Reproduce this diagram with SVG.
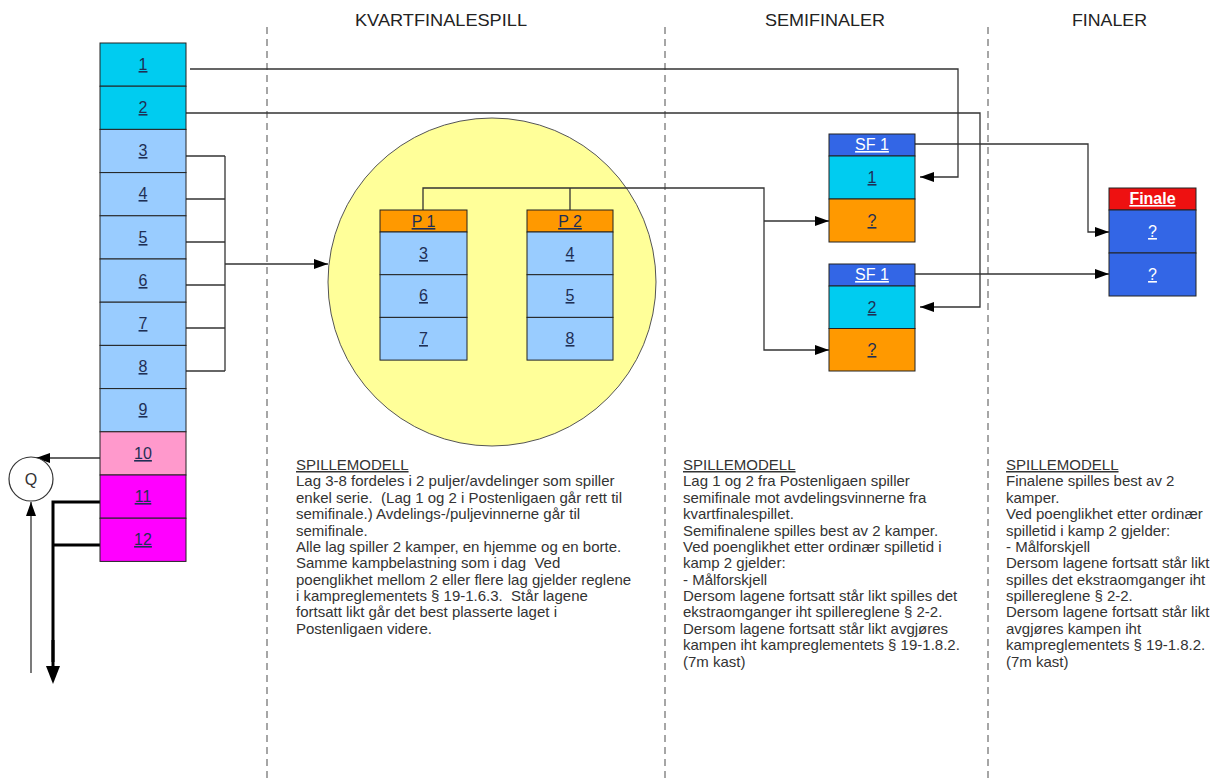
<svg xmlns="http://www.w3.org/2000/svg" width="1218" height="778" viewBox="0 0 1218 778">
<defs>
<style>
text{font-family:"Liberation Sans",Arial,sans-serif}
.head{font-size:17px;fill:#222}
.num{font-size:16px;fill:#1f2f55;text-anchor:middle;text-decoration:underline}
.wnum{font-size:16px;fill:#ffffff;text-anchor:middle;text-decoration:underline}
.body{font-size:15px;fill:#333}
.pre{white-space:pre}
.cell{stroke:#222;stroke-width:1}
.c1{fill:#00ccf0}
.c3{fill:#99ccff}
.c10{fill:#ff99cc}
.c11{fill:#ff00ff}
.or{fill:#ff9900}
.bl{fill:#3366e6}
.rd{fill:#ee1111}
.dash{stroke:#777;stroke-width:1.3;stroke-dasharray:7 5;fill:none}
.con{stroke:#333;stroke-width:1.3;fill:none}
.thick{stroke:#000;stroke-width:3;fill:none}
</style>
<marker id="arr" markerUnits="userSpaceOnUse" markerWidth="14" markerHeight="10" refX="14" refY="5" orient="auto">
<path d="M0,0 L14,5 L0,10 z" fill="#000"/>
</marker>
<marker id="arrBig" markerUnits="userSpaceOnUse" markerWidth="18" markerHeight="14" refX="9" refY="7" orient="auto">
<path d="M0,0 L18,7 L0,14 z" fill="#000"/>
</marker>
</defs>
<rect width="1218" height="778" fill="#fff"/>

<g id="dividers">
<line class="dash" x1="267" y1="27" x2="267" y2="778"/>
<line class="dash" x1="665" y1="27" x2="665" y2="778"/>
<line class="dash" x1="988" y1="27" x2="988" y2="778"/>
</g>

<g id="headings">
<text class="head" x="355" y="26" textLength="172" lengthAdjust="spacingAndGlyphs">KVARTFINALESPILL</text>
<text class="head" x="765" y="26" textLength="120" lengthAdjust="spacingAndGlyphs">SEMIFINALER</text>
<text class="head" x="1072" y="26" textLength="75" lengthAdjust="spacingAndGlyphs">FINALER</text>
</g>

<g id="pool-circle">
<circle cx="492" cy="282" r="164" fill="#ffff99" stroke="#555" stroke-width="1"/>
</g>

<g id="connectors">
<polyline class="con" points="190,69 958,69 958,177 920,177" marker-end="url(#arr)"/>
<polyline class="con" points="186,113 980,113 980,307 920,307" marker-end="url(#arr)"/>
<polyline class="con" points="186,156 225,156"/>
<polyline class="con" points="186,199 225,199"/>
<polyline class="con" points="186,242 225,242"/>
<polyline class="con" points="186,285 225,285"/>
<polyline class="con" points="186,328 225,328"/>
<polyline class="con" points="186,371 225,371"/>
<line class="con" x1="225" y1="156" x2="225" y2="371"/>
<line class="con" x1="225" y1="264" x2="328" y2="264" marker-end="url(#arr)"/>
<polyline class="con" points="423,210 423,188 764,188 764,350 829,350" marker-end="url(#arr)"/>
<polyline class="con" points="570,188 570,210"/>
<polyline class="con" points="764,221 829,221" marker-end="url(#arr)"/>
<polyline class="con" points="915,144 1088,144 1088,232 1109,232" marker-end="url(#arr)"/>
<line class="con" x1="915" y1="274" x2="1109" y2="274" marker-end="url(#arr)"/>
<line class="con" x1="100" y1="458" x2="36" y2="458" marker-end="url(#arr)"/>
<line class="con" x1="31" y1="673" x2="31" y2="502" marker-end="url(#arr)"/>
<polyline class="thick" points="100,502 53,502 53,662"/>
<line class="thick" x1="100" y1="545" x2="53" y2="545"/>
<line x1="53" y1="640" x2="53" y2="675" stroke="#000" stroke-width="3" marker-end="url(#arrBig)"/>
</g>

<g id="standings">
<rect class="cell c1" x="100" y="43" width="86" height="43.2"/><text class="num" x="143" y="70">1</text>
<rect class="cell c1" x="100" y="86.2" width="86" height="43.2"/><text class="num" x="143" y="113">2</text>
<rect class="cell c3" x="100" y="129.4" width="86" height="43.2"/><text class="num" x="143" y="156">3</text>
<rect class="cell c3" x="100" y="172.6" width="86" height="43.2"/><text class="num" x="143" y="199">4</text>
<rect class="cell c3" x="100" y="215.8" width="86" height="43.2"/><text class="num" x="143" y="243">5</text>
<rect class="cell c3" x="100" y="259" width="86" height="43.2"/><text class="num" x="143" y="286">6</text>
<rect class="cell c3" x="100" y="302.2" width="86" height="43.2"/><text class="num" x="143" y="329">7</text>
<rect class="cell c3" x="100" y="345.4" width="86" height="43.2"/><text class="num" x="143" y="372">8</text>
<rect class="cell c3" x="100" y="388.6" width="86" height="43.2"/><text class="num" x="143" y="415">9</text>
<rect class="cell c10" x="100" y="431.8" width="86" height="43.2"/><text class="num" x="143" y="459">10</text>
<rect class="cell c11" x="100" y="475" width="86" height="43.2"/><text class="num" x="143" y="502">11</text>
<rect class="cell c11" x="100" y="518.2" width="86" height="43.2"/><text class="num" x="143" y="545">12</text>
</g>

<g id="q-node">
<circle cx="31" cy="479" r="22" fill="#fff" stroke="#333" stroke-width="1.2"/>
<text x="31" y="485" font-size="16" fill="#333" text-anchor="middle">Q</text>
</g>

<g id="pool-1">
<rect class="cell or" x="380" y="210" width="87" height="22"/><text class="num" x="423.5" y="227">P 1</text>
<rect class="cell c3" x="380" y="232" width="87" height="42.7"/><text class="num" x="423.5" y="259">3</text>
<rect class="cell c3" x="380" y="274.7" width="87" height="42.7"/><text class="num" x="423.5" y="301">6</text>
<rect class="cell c3" x="380" y="317.4" width="87" height="42.7"/><text class="num" x="423.5" y="344">7</text>
</g>

<g id="pool-2">
<rect class="cell or" x="527" y="210" width="86" height="22"/><text class="num" x="570" y="227">P 2</text>
<rect class="cell c3" x="527" y="232" width="86" height="42.7"/><text class="num" x="570" y="259">4</text>
<rect class="cell c3" x="527" y="274.7" width="86" height="42.7"/><text class="num" x="570" y="301">5</text>
<rect class="cell c3" x="527" y="317.4" width="86" height="42.7"/><text class="num" x="570" y="344">8</text>
</g>

<g id="sf-1">
<rect class="cell bl" x="829" y="134" width="86" height="22"/><text class="wnum" x="872" y="150">SF 1</text>
<rect class="cell c1" x="829" y="156" width="86" height="43"/><text class="num" x="872" y="183">1</text>
<rect class="cell or" x="829" y="199" width="86" height="43"/><text class="num" x="872" y="226">?</text>
</g>

<g id="sf-2">
<rect class="cell bl" x="829" y="264" width="86" height="22"/><text class="wnum" x="872" y="280">SF 1</text>
<rect class="cell c1" x="829" y="286" width="86" height="42.5"/><text class="num" x="872" y="313">2</text>
<rect class="cell or" x="829" y="328.5" width="86" height="42.5"/><text class="num" x="872" y="355">?</text>
</g>

<g id="finale">
<rect class="cell rd" x="1109" y="188" width="87" height="22"/><text class="wnum" x="1152.5" y="204" font-weight="bold">Finale</text>
<rect class="cell bl" x="1109" y="210" width="87" height="43"/><text class="wnum" x="1152.5" y="237">?</text>
<rect class="cell bl" x="1109" y="253" width="87" height="43"/><text class="wnum" x="1152.5" y="280">?</text>
</g>

<g id="text-kvartfinale" class="body">
<text x="296" y="470" text-decoration="underline">SPILLEMODELL</text>
<text x="296" y="486">Lag 3-8 fordeles i 2 puljer/avdelinger som spiller</text>
<text class="pre" x="296" y="503">enkel serie.  (Lag 1 og 2 i Postenligaen går rett til</text>
<text x="296" y="519">semifinale.) Avdelings-/puljevinnerne går til</text>
<text x="296" y="536">semifinale.</text>
<text x="296" y="552">Alle lag spiller 2 kamper, en hjemme og en borte.</text>
<text class="pre" x="296" y="568">Samme kampbelastning som i dag  Ved</text>
<text x="296" y="585">poenglikhet mellom 2 eller flere lag gjelder reglene</text>
<text class="pre" x="296" y="601">i kampreglementets § 19-1.6.3.  Står lagene</text>
<text x="296" y="617">fortsatt likt går det best plasserte laget i</text>
<text x="296" y="634">Postenligaen videre.</text>
</g>

<g id="text-semifinale" class="body">
<text x="683" y="470" text-decoration="underline">SPILLEMODELL</text>
<text x="683" y="486">Lag 1 og 2 fra Postenligaen spiller</text>
<text x="683" y="503">semifinale mot avdelingsvinnerne fra</text>
<text x="683" y="519">kvartfinalespillet.</text>
<text x="683" y="536">Semifinalene spilles best av 2 kamper.</text>
<text x="683" y="552">Ved poenglikhet etter ordinær spilletid i</text>
<text x="683" y="568">kamp 2 gjelder:</text>
<text x="683" y="585">- Målforskjell</text>
<text x="683" y="601">Dersom lagene fortsatt står likt spilles det</text>
<text x="683" y="617">ekstraomganger iht spillereglene § 2-2.</text>
<text x="683" y="634">Dersom lagene fortsatt står likt avgjøres</text>
<text x="683" y="650">kampen iht kampreglementets § 19-1.8.2.</text>
<text x="683" y="667">(7m kast)</text>
</g>

<g id="text-finale" class="body">
<text x="1006" y="470" text-decoration="underline">SPILLEMODELL</text>
<text x="1006" y="486">Finalene spilles best av 2</text>
<text x="1006" y="503">kamper.</text>
<text x="1006" y="519">Ved poenglikhet etter ordinær</text>
<text x="1006" y="536">spilletid i kamp 2 gjelder:</text>
<text x="1006" y="552">- Målforskjell</text>
<text x="1006" y="568">Dersom lagene fortsatt står likt</text>
<text x="1006" y="585">spilles det ekstraomganger iht</text>
<text x="1006" y="601">spillereglene § 2-2.</text>
<text x="1006" y="617">Dersom lagene fortsatt står likt</text>
<text x="1006" y="634">avgjøres kampen iht</text>
<text x="1006" y="650">kampreglementets § 19-1.8.2.</text>
<text x="1006" y="667">(7m kast)</text>
</g>
</svg>
